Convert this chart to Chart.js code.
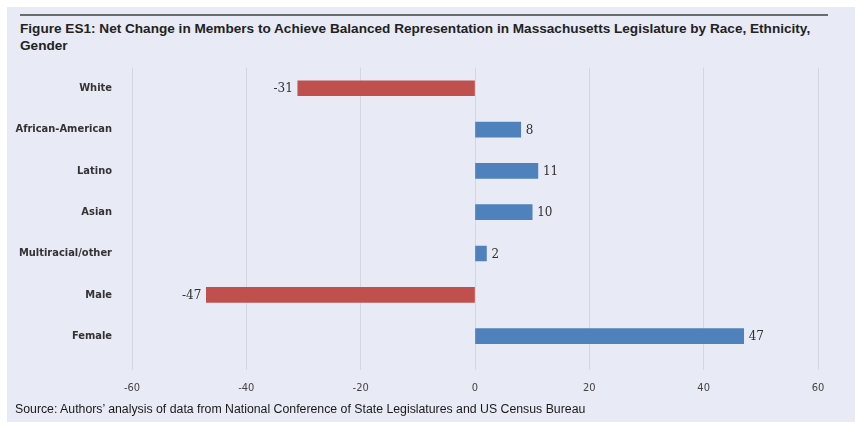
<!DOCTYPE html>
<html lang="en">
<head>
  <meta charset="UTF-8">
  <title>Figure ES1: Net Change in Members</title>
  <script src="https://cdn.jsdelivr.net/npm/chart.js"></script>
  <style>
    body {
      margin: 0;
      background-color: #ffffff;
      font-family: "Liberation Sans", Arial, sans-serif;
    }

    .frame {
      position: absolute;
      left: 7px;
      top: 7px;
      width: 848px;
      height: 415px;
      background-color: #e8eaf5;
    }

    .rule {
      position: absolute;
      left: 20px;
      top: 14px;
      width: 808px;
      height: 2px;
      background-color: #6b6b6b;
    }

    .title {
      position: absolute;
      left: 20px;
      top: 20px;
      font-weight: bold;
      font-size: 13.6px;
      line-height: 17px;
      color: #222;
      white-space: nowrap;
    }

    .source {
      position: absolute;
      left: 15px;
      top: 402px;
      font-size: 12.3px;
      color: #1a1a1a;
      white-space: nowrap;
    }

    .chart-box {
      position: absolute;
      left: 0;
      top: 41px;
      width: 855px;
      height: 366px;
    }
  </style>
</head>
<body>
  <div class="frame"></div>
  <div class="rule"></div>
  <div class="title">Figure ES1: Net Change in Members to Achieve Balanced Representation in Massachusetts Legislature by Race, Ethnicity,<br>Gender</div>

  <div class="chart-box">
    <canvas id="netChangeChart"></canvas>
  </div>

  <div class="source">Source: Authors’ analysis of data from National Conference of State Legislatures and US Census Bureau</div>

  <script>
    const categories = ['White', 'African-American', 'Latino', 'Asian', 'Multiracial/other', 'Male', 'Female'];
    const netChange = [-31, 8, 11, 10, 2, -47, 47];
    const xTicks = [-60, -40, -20, 0, 20, 40, 60];

    const RED = '#c0504d';
    const BLUE = '#4f81bd';
    const NARROW = '"DejaVu Sans Condensed", "Liberation Sans", sans-serif';

    // writes the value next to the end of each bar
    const valueLabels = {
      id: 'valueLabels',
      afterDatasetsDraw(chart) {
        const ctx = chart.ctx;
        const meta = chart.getDatasetMeta(0);
        ctx.save();
        ctx.font = '12px "DejaVu Serif", serif';
        ctx.fillStyle = '#333';
        ctx.textBaseline = 'middle';
        meta.data.forEach((bar, i) => {
          const v = netChange[i];
          if (v < 0) {
            ctx.textAlign = 'right';
            ctx.fillText(String(v), bar.x - 5, bar.y + 1);
          } else {
            ctx.textAlign = 'left';
            ctx.fillText(String(v), bar.x + 5, bar.y + 1);
          }
        });
        ctx.restore();
      }
    };

    const ctx = document.getElementById('netChangeChart').getContext('2d');

    new Chart(ctx, {
      type: 'bar',
      data: {
        labels: categories,
        datasets: [{
          data: netChange,
          backgroundColor: netChange.map(v => v < 0 ? RED : BLUE),
          barThickness: 15
        }]
      },
      options: {
        indexAxis: 'y',
        responsive: true,
        maintainAspectRatio: false,
        animation: false,
        layout: {
          padding: { top: 7, right: 37, left: 0, bottom: 0 }
        },
        plugins: {
          legend: { display: false },
          tooltip: { enabled: false }
        },
        scales: {
          x: {
            min: -60,
            max: 60,
            afterBuildTicks(scale) {
              scale.ticks = xTicks.map(v => ({ value: v }));
            },
            grid: {
              color: '#d3d6e0',
              lineWidth: 1,
              tickLength: 13
            },
            border: { display: false },
            ticks: {
              padding: 12,
              color: '#444',
              font: { family: NARROW, size: 11 }
            }
          },
          y: {
            afterFit(scale) {
              scale.width = 132;
            },
            grid: { display: false, drawTicks: false },
            border: { display: false },
            ticks: {
              padding: 20,
              color: '#333',
              font: { family: NARROW, size: 11, weight: 'bold' }
            }
          }
        }
      },
      plugins: [valueLabels]
    });
  </script>
</body>
</html>
